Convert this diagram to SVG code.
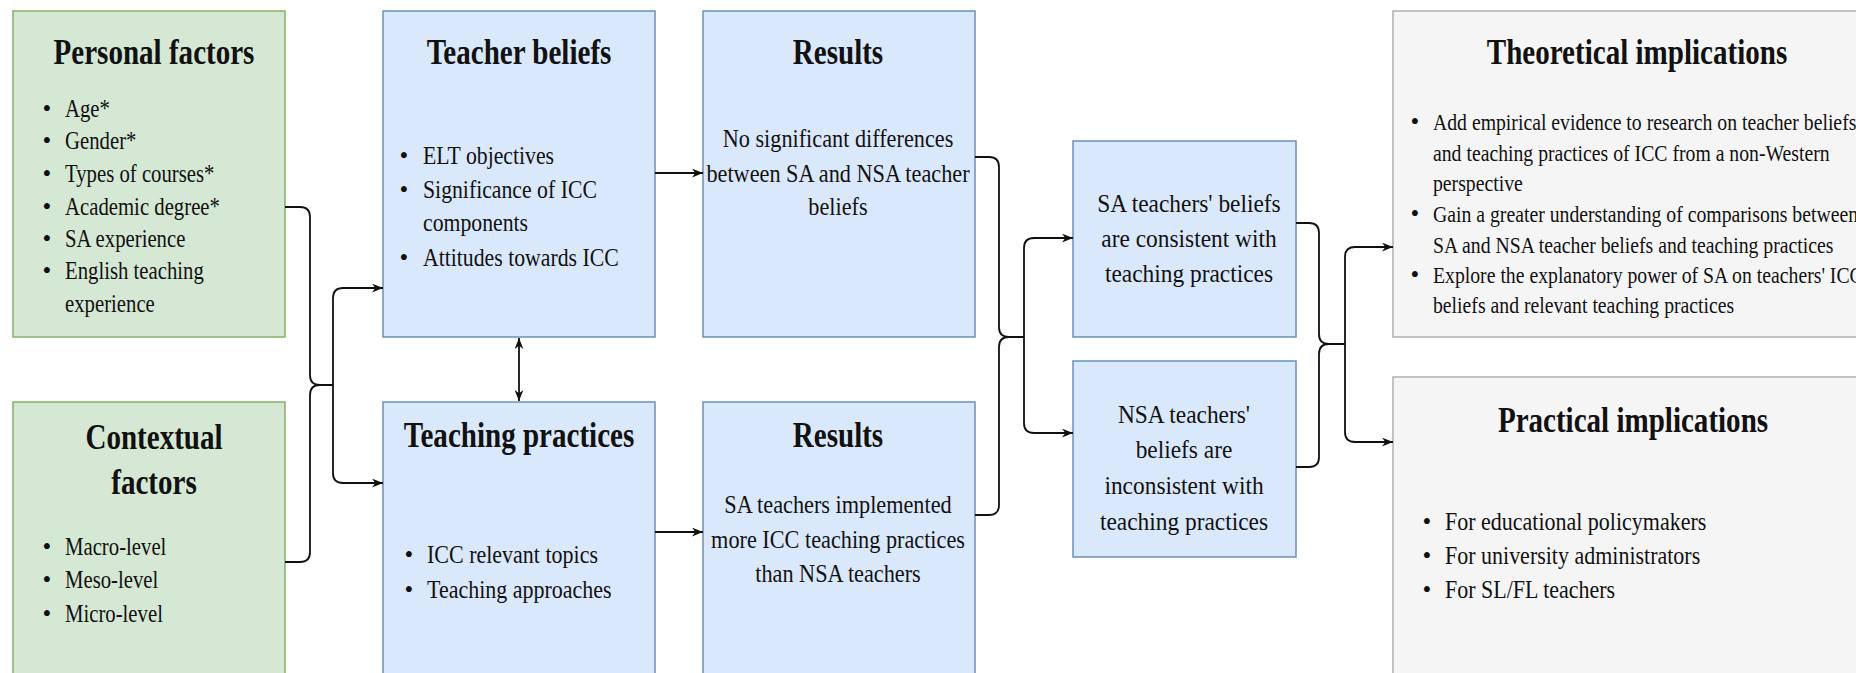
<svg xmlns="http://www.w3.org/2000/svg" width="1856" height="673" viewBox="0 0 1856 673">
  <style>
    .green { fill: #d5e8d4; stroke: #82b366; stroke-width: 1.5; }
    .blue { fill: #dae8fc; stroke: #6c8ebf; stroke-width: 1.5; }
    .grey { fill: #f5f5f5; stroke: #b0b0b0; stroke-width: 1.5; }
    text { font-family: "Liberation Serif", "Times New Roman", serif; fill: #111; }
    .title { font-size: 35px; font-weight: bold; text-anchor: middle; }
    .body { font-size: 25px; }
    .mid { text-anchor: middle; }
    .dot { font-size: 25px; text-anchor: middle; }
    .link { fill: none; stroke: #111; stroke-width: 1.8; }
  </style>
  <defs>
    <marker id="arr" viewBox="0 0 10 8" refX="10" refY="4" markerWidth="11" markerHeight="9" orient="auto-start-reverse" markerUnits="userSpaceOnUse">
      <path d="M0,0 L10,4 L0,8 L3,4 Z" fill="#111"/>
    </marker>
  </defs>

  <rect width="1856" height="673" fill="#ffffff"/>

  <!-- Personal factors -->
  <g id="personal-factors">
    <rect class="green" x="13" y="11" width="272" height="326"/>
    <g transform="translate(154,0) scale(0.83,1)"><text class="title" x="0" y="64">Personal factors</text></g>
    <text class="dot" x="47" y="117">•</text>
    <text class="dot" x="47" y="149">•</text>
    <text class="dot" x="47" y="182">•</text>
    <text class="dot" x="47" y="215">•</text>
    <text class="dot" x="47" y="247">•</text>
    <text class="dot" x="47" y="279">•</text>
    <g transform="translate(65,0) scale(0.83,1)">
      <text class="body" x="0" y="117">Age*</text>
      <text class="body" x="0" y="149">Gender*</text>
      <text class="body" x="0" y="182">Types of courses*</text>
      <text class="body" x="0" y="215">Academic degree*</text>
      <text class="body" x="0" y="247">SA experience</text>
      <text class="body" x="0" y="279">English teaching</text>
      <text class="body" x="0" y="312">experience</text>
    </g>
  </g>

  <!-- Contextual factors -->
  <g id="contextual-factors">
    <rect class="green" x="13" y="402" width="272" height="300"/>
    <g transform="translate(154,0) scale(0.83,1)">
      <text class="title" x="0" y="449">Contextual</text>
      <text class="title" x="0" y="494">factors</text>
    </g>
    <text class="dot" x="47" y="555">•</text>
    <text class="dot" x="47" y="588">•</text>
    <text class="dot" x="47" y="622">•</text>
    <g transform="translate(65,0) scale(0.83,1)">
      <text class="body" x="0" y="555">Macro-level</text>
      <text class="body" x="0" y="588">Meso-level</text>
      <text class="body" x="0" y="622">Micro-level</text>
    </g>
  </g>

  <!-- Teacher beliefs -->
  <g id="teacher-beliefs">
    <rect class="blue" x="383" y="11" width="272" height="326"/>
    <g transform="translate(519,0) scale(0.83,1)"><text class="title" x="0" y="64">Teacher beliefs</text></g>
    <text class="dot" x="404" y="164">•</text>
    <text class="dot" x="404" y="198">•</text>
    <text class="dot" x="404" y="266">•</text>
    <g transform="translate(423,0) scale(0.87,1)">
      <text class="body" x="0" y="164">ELT objectives</text>
      <text class="body" x="0" y="198">Significance of ICC</text>
      <text class="body" x="0" y="231">components</text>
      <text class="body" x="0" y="266">Attitudes towards ICC</text>
    </g>
  </g>

  <!-- Teaching practices -->
  <g id="teaching-practices">
    <rect class="blue" x="383" y="402" width="272" height="300"/>
    <g transform="translate(519,0) scale(0.83,1)"><text class="title" x="0" y="447">Teaching practices</text></g>
    <text class="dot" x="409" y="563">•</text>
    <text class="dot" x="409" y="598">•</text>
    <g transform="translate(427,0) scale(0.88,1)">
      <text class="body" x="0" y="563">ICC relevant topics</text>
      <text class="body" x="0" y="598">Teaching approaches</text>
    </g>
  </g>

  <!-- Results: beliefs -->
  <g id="results-beliefs">
    <rect class="blue" x="703" y="11" width="272" height="326"/>
    <g transform="translate(838,0) scale(0.83,1)"><text class="title" x="0" y="64">Results</text></g>
    <g transform="translate(838,0) scale(0.89,1)">
      <text class="body mid" x="0" y="147">No significant differences</text>
      <text class="body mid" x="0" y="182">between SA and NSA teacher</text>
      <text class="body mid" x="0" y="215">beliefs</text>
    </g>
  </g>

  <!-- Results: practices -->
  <g id="results-practices">
    <rect class="blue" x="703" y="402" width="272" height="300"/>
    <g transform="translate(838,0) scale(0.83,1)"><text class="title" x="0" y="447">Results</text></g>
    <g transform="translate(838,0) scale(0.89,1)">
      <text class="body mid" x="0" y="513">SA teachers implemented</text>
      <text class="body mid" x="0" y="548">more ICC teaching practices</text>
      <text class="body mid" x="0" y="582">than NSA teachers</text>
    </g>
  </g>

  <!-- SA teachers -->
  <g id="sa-teachers">
    <rect class="blue" x="1073" y="141" width="223" height="196"/>
    <g transform="translate(1189,0) scale(0.9,1)">
      <text class="mid" x="0" y="212" font-size="26">SA teachers' beliefs</text>
      <text class="mid" x="0" y="247" font-size="26">are consistent with</text>
      <text class="mid" x="0" y="282" font-size="26">teaching practices</text>
    </g>
  </g>

  <!-- NSA teachers -->
  <g id="nsa-teachers">
    <rect class="blue" x="1073" y="361" width="223" height="196"/>
    <g transform="translate(1184,0) scale(0.9,1)">
      <text class="mid" x="0" y="423" font-size="26">NSA teachers'</text>
      <text class="mid" x="0" y="458" font-size="26">beliefs are</text>
      <text class="mid" x="0" y="494" font-size="26">inconsistent with</text>
      <text class="mid" x="0" y="530" font-size="26">teaching practices</text>
    </g>
  </g>

  <!-- Theoretical implications -->
  <g id="theoretical-implications">
    <rect class="grey" x="1393" y="11" width="490" height="326"/>
    <g transform="translate(1637,0) scale(0.83,1)"><text class="title" x="0" y="64">Theoretical implications</text></g>
    <text class="dot" x="1415" y="130" font-size="23.5">•</text>
    <text class="dot" x="1415" y="222" font-size="23.5">•</text>
    <text class="dot" x="1415" y="283" font-size="23.5">•</text>
    <g transform="translate(1433,0) scale(0.84,1)" font-size="23.5">
      <text x="0" y="130">Add empirical evidence to research on teacher beliefs</text>
      <text x="0" y="161">and teaching practices of ICC from a non-Western</text>
      <text x="0" y="191">perspective</text>
      <text x="0" y="222">Gain a greater understanding of comparisons between</text>
      <text x="0" y="253">SA and NSA teacher beliefs and teaching practices</text>
      <text x="0" y="283">Explore the explanatory power of SA on teachers' ICC</text>
      <text x="0" y="313">beliefs and relevant teaching practices</text>
    </g>
  </g>

  <!-- Practical implications -->
  <g id="practical-implications">
    <rect class="grey" x="1393" y="377" width="490" height="320"/>
    <g transform="translate(1633,0) scale(0.83,1)"><text class="title" x="0" y="432">Practical implications</text></g>
    <text class="dot" x="1427" y="530">•</text>
    <text class="dot" x="1427" y="564">•</text>
    <text class="dot" x="1427" y="598">•</text>
    <g transform="translate(1445,0) scale(0.88,1)">
      <text class="body" x="0" y="530">For educational policymakers</text>
      <text class="body" x="0" y="564">For university administrators</text>
      <text class="body" x="0" y="598">For SL/FL teachers</text>
    </g>
  </g>

  <!-- Connectors -->
  <g id="connectors">
    <!-- factors brace and fork -->
    <path class="link" d="M285,207 H300 Q310,207 310,217 V375 Q310,385 320,385 H333"/>
    <path class="link" d="M285,562 H300 Q310,562 310,552 V395 Q310,385 320,385"/>
    <path class="link" d="M333,385 V298 Q333,288 343,288 H383" marker-end="url(#arr)"/>
    <path class="link" d="M333,385 V473 Q333,483 343,483 H383" marker-end="url(#arr)"/>
    <!-- beliefs and practices -->
    <path class="link" d="M519,338 V401" marker-start="url(#arr)" marker-end="url(#arr)"/>
    <path class="link" d="M655,173 H703" marker-end="url(#arr)"/>
    <path class="link" d="M655,532 H703" marker-end="url(#arr)"/>
    <!-- results brace and fork -->
    <path class="link" d="M975,157 H989 Q999,157 999,167 V327 Q999,337 1009,337 H1024"/>
    <path class="link" d="M975,515 H989 Q999,515 999,505 V347 Q999,337 1009,337"/>
    <path class="link" d="M1024,337 V248 Q1024,238 1034,238 H1073" marker-end="url(#arr)"/>
    <path class="link" d="M1024,337 V423 Q1024,433 1034,433 H1073" marker-end="url(#arr)"/>
    <!-- consistency brace and fork -->
    <path class="link" d="M1296,223 H1309 Q1319,223 1319,233 V334 Q1319,344 1329,344 H1345"/>
    <path class="link" d="M1296,467 H1309 Q1319,467 1319,457 V354 Q1319,344 1329,344"/>
    <path class="link" d="M1345,344 V257 Q1345,247 1355,247 H1393" marker-end="url(#arr)"/>
    <path class="link" d="M1345,344 V432 Q1345,442 1355,442 H1393" marker-end="url(#arr)"/>
  </g>
</svg>
